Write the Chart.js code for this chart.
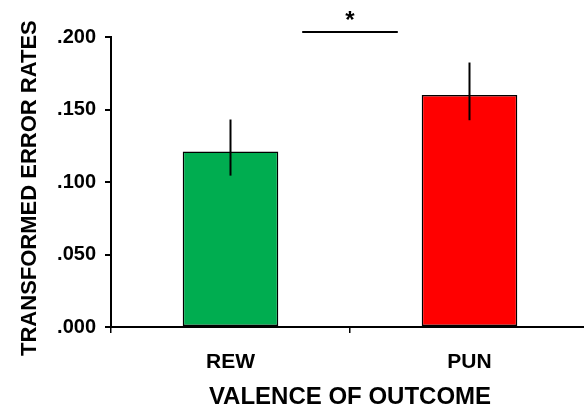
<!DOCTYPE html>
<html>
<head>
<meta charset="utf-8">
<script src="https://cdn.jsdelivr.net/npm/chart.js@4.4.1/dist/chart.umd.min.js"></script>
<style>
  html, body { margin: 0; padding: 0; background: #fff; overflow: hidden; }
  #wrap { width: 590px; height: 407px; }
</style>
</head>
<body>
<div id="wrap"><canvas id="c" width="590" height="407"></canvas></div>
<script>
const categories = ['REW', 'PUN'];
const means = [0.121, 0.160];
const errUp = [0.0221, 0.0224];
const errDown = [0.0166, 0.0174];
const barColors = ['#00AD50', '#FF0000'];
const yTicks = [0, 0.05, 0.10, 0.15, 0.20];
const sigFrom = 0.3, sigTo = 0.7, sigLevel = 0.2035, sigStarLevel = 0.2135;
const sigLabel = '*';

const FONT = "'Liberation Sans', Arial, Helvetica, sans-serif";

const errorBars = {
  id: 'errorBars',
  afterDatasetsDraw(chart) {
    const ctx = chart.ctx;
    const x = chart.scales.x, y = chart.scales.y;
    ctx.save();
    ctx.strokeStyle = '#000';
    ctx.lineWidth = 2;
    means.forEach((m, i) => {
      const px = x.getPixelForValue(i);
      ctx.beginPath();
      ctx.moveTo(px, y.getPixelForValue(m - errDown[i]));
      ctx.lineTo(px, y.getPixelForValue(m + errUp[i]));
      ctx.stroke();
    });
    // significance bar
    ctx.lineWidth = 2;
    const sy = y.getPixelForValue(sigLevel);
    ctx.beginPath();
    ctx.moveTo(x.getPixelForValue(sigFrom), sy);
    ctx.lineTo(x.getPixelForValue(sigTo), sy);
    ctx.stroke();
    ctx.fillStyle = '#000';
    ctx.font = 'bold 24px ' + FONT;
    ctx.textAlign = 'center';
    ctx.textBaseline = 'middle';
    ctx.fillText(sigLabel, x.getPixelForValue((sigFrom + sigTo) / 2), y.getPixelForValue(sigStarLevel) + 4);
    ctx.restore();
  }
};

new Chart(document.getElementById('c'), {
  type: 'bar',
  data: {
    labels: categories,
    datasets: [{
      data: means,
      backgroundColor: barColors,
      borderColor: '#000',
      borderWidth: 1.5,
      borderSkipped: false,
      categoryPercentage: 1,
      barPercentage: 0.4
    }]
  },
  options: {
    responsive: false,
    animation: false,
    devicePixelRatio: 1,
    layout: { padding: { top: 37, right: 1, left: 0, bottom: 0 } },
    plugins: { legend: { display: false }, tooltip: { enabled: false } },
    scales: {
      x: {
        offset: true,
        afterFit(s) { s.height = 80; },
        grid: { display: true, drawOnChartArea: false, offset: true, tickLength: 6, color: '#000', lineWidth: 1.5 },
        border: { display: true, color: '#000', width: 2 },
        ticks: { color: '#000', font: { family: FONT, size: 21, weight: 'bold' }, padding: 17 },
        title: { display: true, text: 'VALENCE OF OUTCOME', color: '#000', font: { family: FONT, size: 24, weight: 'bold' }, padding: { top: 4, bottom: -5 } }
      },
      y: {
        min: 0, max: 0.2,
        afterFit(s) { s.width = 111; },
        afterBuildTicks(s) { s.ticks = yTicks.map(v => ({ value: v })); },
        grid: { display: true, drawOnChartArea: false, tickLength: 6, color: '#000', lineWidth: 2 },
        border: { display: true, color: '#000', width: 2 },
        ticks: {
          color: '#000', padding: 9,
          font: { family: FONT, size: 20, weight: 'bold' },
          callback: v => Number(v).toFixed(3).replace(/^0/, '')
        },
        title: { display: true, text: 'TRANSFORMED ERROR RATES  ', color: '#000', font: { family: FONT, size: 22, weight: 'bold' }, padding: { top: 17, bottom: 0 } }
      }
    }
  },
  plugins: [errorBars]
});
</script>
</body>
</html>
